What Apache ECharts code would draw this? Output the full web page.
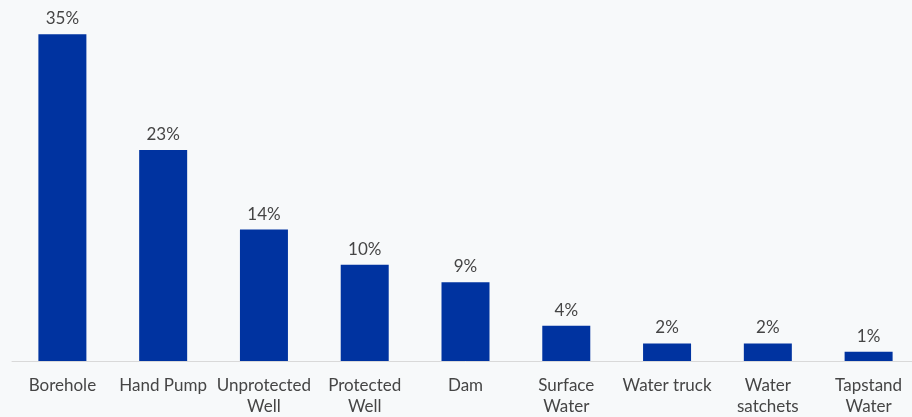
<!DOCTYPE html>
<html>
<head>
<meta charset="utf-8">
<script src="https://cdn.jsdelivr.net/npm/echarts@6/dist/echarts.min.js"></script>
<style>
html,body{margin:0;padding:0;background:#F7F9FA;overflow:hidden;width:912px;height:417px;}
#chart{width:919px;height:417px;}
</style>
</head>
<body>
<div id="chart"></div>
<script>
const categories = ["Borehole", "Hand Pump", "Unprotected\nWell", "Protected\nWell", "Dam", "Surface\nWater", "Water truck", "Water\nsatchets", "Tapstand\nWater"];
const shareValues = [35.3, 22.8, 14.2, 10.4, 8.5, 3.8, 1.9, 1.9, 1.0];

const chart = echarts.init(document.getElementById('chart'));
chart.setOption({
  backgroundColor: '#F7F9FA',
  animation: false,
  grid: { left: 12, right: 0, top: 0, bottom: 55, containLabel: false },
  xAxis: {
    type: 'category',
    data: categories,
    axisLine: { show: true, lineStyle: { color: '#D9D9D9', width: 1 } },
    axisTick: { show: false },
    axisLabel: {
      interval: 0,
      color: '#454545',
      fontFamily: 'Lato',
      fontSize: 17,
      lineHeight: 21,
      margin: 14
    }
  },
  yAxis: {
    type: 'value',
    min: 0,
    max: 39,
    show: false,
    splitLine: { show: false }
  },
  series: [{
    type: 'bar',
    data: shareValues,
    barWidth: 48,
    itemStyle: { color: '#0033A0' },
    label: {
      show: true,
      position: 'top',
      distance: 7,
      color: '#454545',
      fontFamily: 'Lato',
      fontSize: 17,
      formatter: p => Math.round(p.value) + '%'
    }
  }]
});
</script>
</body>
</html>
